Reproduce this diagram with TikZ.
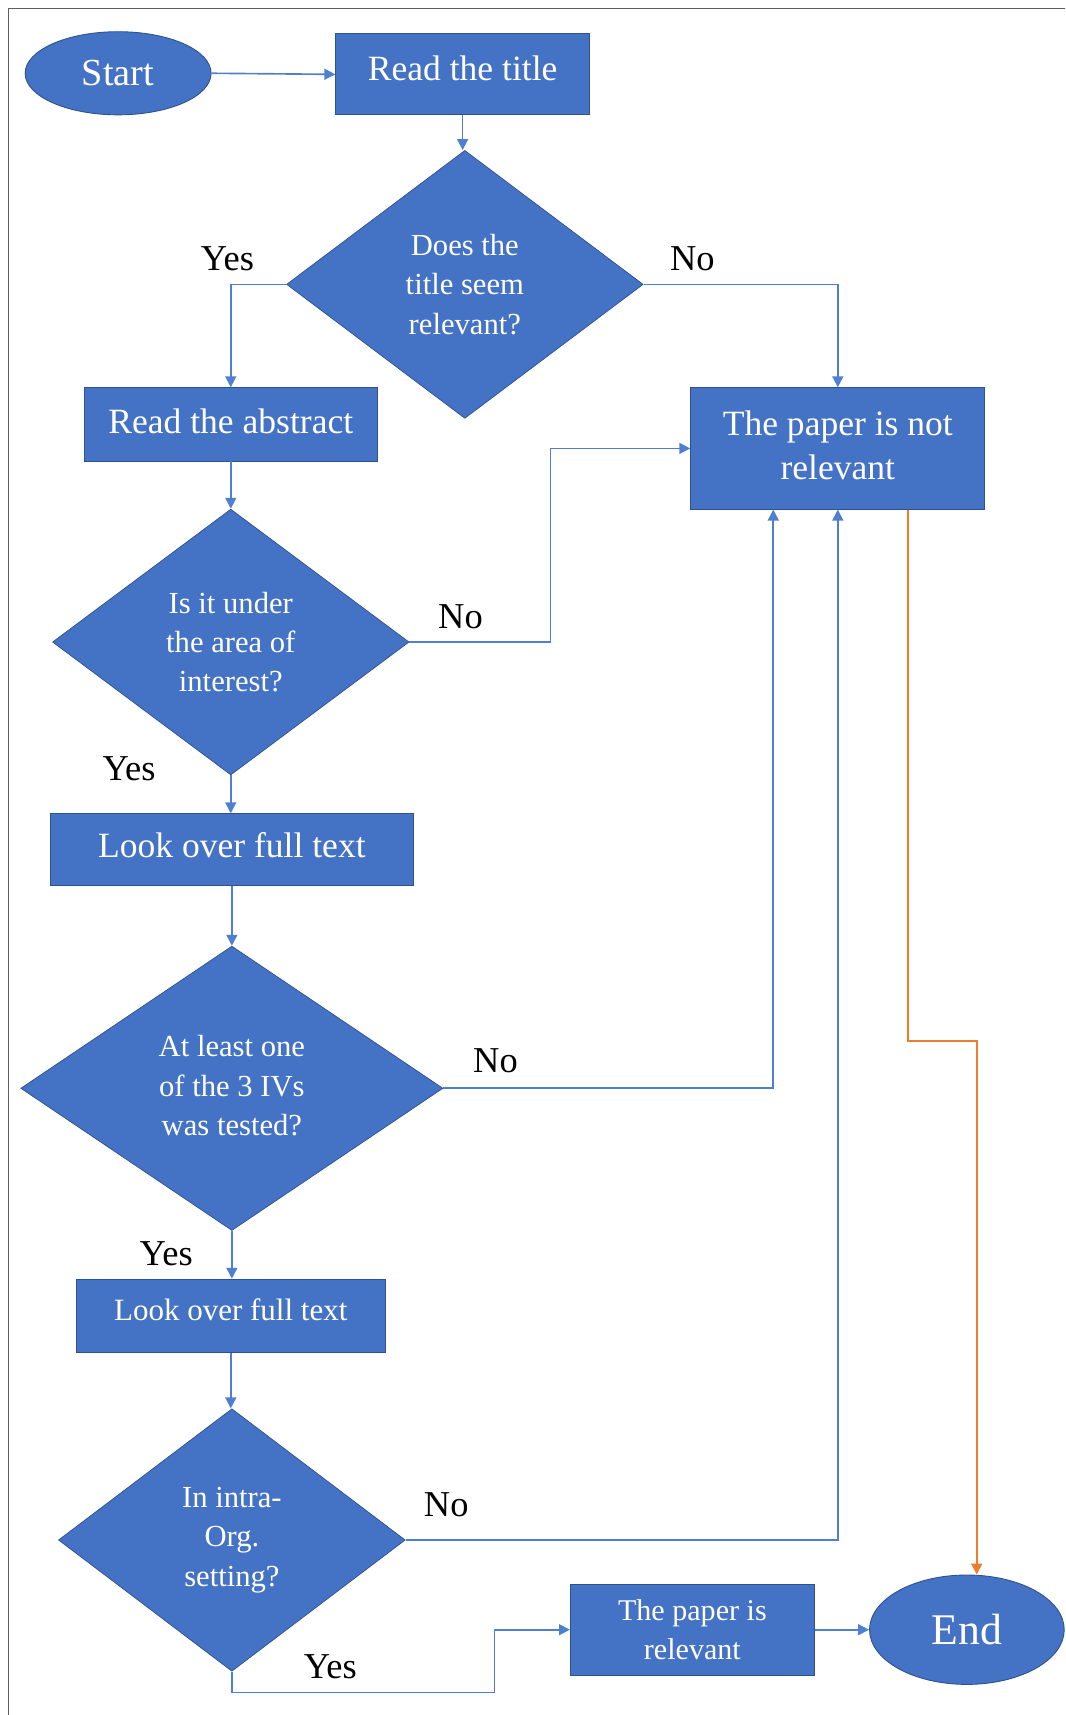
\documentclass[tikz,border=0pt]{standalone}
\usepackage{fontspec}
\setmainfont{Liberation Serif}
\usetikzlibrary{shapes.geometric,arrows.meta,calc}
\definecolor{ofblue}{HTML}{4472C4}
\definecolor{ofedge}{HTML}{2F528F}
\definecolor{oflink}{HTML}{4E7FD3}
\definecolor{oforange}{HTML}{ED7D31}
\definecolor{framegray}{HTML}{5F5F5F}
\begin{document}
\begin{tikzpicture}[x=0.6pt,y=-0.6pt,
  box/.style={rectangle,fill=ofblue,draw=ofedge,line width=0.5pt,text=white,align=center,inner sep=0pt},
  dia/.style={diamond,fill=ofblue,draw=ofedge,line width=0.4pt,text=white,align=center,inner sep=0pt,font=\fontsize{16.8}{21.6}\selectfont},
  oval/.style={ellipse,fill=ofblue,draw=ofedge,line width=0.5pt,text=white,inner sep=0pt},
  conn/.style={draw=oflink,line width=0.9pt,-{Triangle[length=6pt,width=6pt]}},
  lbl/.style={font=\fontsize{20}{24}\selectfont,text=black,inner sep=0pt},
  big/.style={font=\fontsize{19.5}{24}\selectfont}]

\useasboundingbox (0,0) rectangle (974,1568);
\draw[framegray,line width=0.8pt] (8,1568) -- (8,8) -- (974,8);

% nodes
\node[oval,minimum width=170*0.6pt,minimum height=76*0.6pt,font=\fontsize{21}{24}\selectfont] (start) at (108,67) {Start};
\node[box,big,minimum width=232*0.6pt,minimum height=74*0.6pt] (read) at (423,68) {\raisebox{7pt}{Read the title}};
\node[dia,minimum width=326*0.6pt,minimum height=245*0.6pt] (d1) at (425,260) {Does the\\title seem\\relevant?};
\node[box,big,minimum width=268*0.6pt,minimum height=67*0.6pt] (abs) at (211,388) {\raisebox{4pt}{Read the abstract}};
\node[box,big,minimum width=269*0.6pt,minimum height=111*0.6pt] (notrel) at (766,410) {\raisebox{4pt}{\begin{tabular}{@{}c@{}}The paper is not\\relevant\end{tabular}}};
\node[dia,minimum width=326*0.6pt,minimum height=243*0.6pt] (d2) at (211,587) {Is it under\\the area of\\interest?};
\node[box,big,minimum width=332*0.6pt,minimum height=66*0.6pt] (look1) at (212,777) {\raisebox{5pt}{Look over full text}};
\node[dia,minimum width=386*0.6pt,minimum height=260*0.6pt] (d3) at (212,995) {\raisebox{4pt}{\begin{tabular}{@{}c@{}}At least one\\of the 3 IVs\\was tested?\end{tabular}}};
\node[box,minimum width=283*0.6pt,minimum height=67*0.6pt,font=\fontsize{17}{21}\selectfont] (look2) at (211,1203) {\raisebox{7pt}{Look over full text}};
\node[dia,minimum width=317*0.6pt,minimum height=240*0.6pt] (d4) at (212,1408) {In intra-\\Org.\\setting?};
\node[box,minimum width=223*0.6pt,minimum height=83*0.6pt,font=\fontsize{16.5}{21}\selectfont] (rel) at (633,1490) {The paper is\\relevant};
\node[oval,minimum width=178*0.6pt,minimum height=100*0.6pt,font=\fontsize{24}{28}\selectfont] (end) at (884,1490) {End};

% labels
\node[lbl] (y1) at (208,237) {Yes};
\node[lbl] (n1) at (633,237) {No};
\node[lbl] (n2) at (421,564) {No};
\node[lbl] (y2) at (118,703) {Yes};
\node[lbl] (n3) at (453,970) {No};
\node[lbl] (y3) at (152,1146) {Yes};
\node[lbl] (n4) at (408,1376) {No};
\node[lbl] (y4) at (302,1524) {Yes};

% connectors
\draw[conn] (start.east) -- (read.west);
\draw[conn] (read.south) -- (read.south |- d1.north);
\draw[conn] (d1.west) -| (abs.north);
\draw[conn] (d1.east) -| (notrel.north);
\draw[conn] (abs.south) -- (abs.south |- d2.north);
\draw[conn] (d2.east) -- ++(129,0) |- (notrel.west);
\draw[conn] (d2.south) -- (d2.south |- look1.north);
\draw[conn] (look1.south) -- (look1.south |- d3.north);
\draw[conn] (d3.east) -| ($(notrel.south)+(-59,0)$);
\draw[conn] (d3.south) -- (d3.south |- look2.north);
\draw[conn] (look2.south) -- (look2.south |- d4.north);
\draw[conn] (d4.east) -| (notrel.south);
\draw[conn] (d4.south) -- ++(0,19) -| ($(rel.west)+(-69,0)$) -- (rel.west);
\draw[conn] (rel.east) -- (end.west);
\draw[conn,draw=oforange] ($(notrel.south)+(64,0)$) -- ++(0,486) -| ($(end.north)+(9,0)$);
\end{tikzpicture}
\end{document}
